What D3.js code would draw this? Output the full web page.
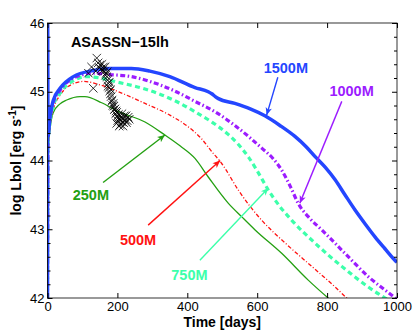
<!DOCTYPE html>
<html>
<head>
<meta charset="utf-8">
<script src="https://cdn.jsdelivr.net/npm/d3@7"></script>
<style>
  body { margin: 0; background: #fff; }
  text { font-family: "Liberation Sans", Arial, sans-serif; }
</style>
</head>
<body>
<div id="chart-area"></div>
<script>
// model light curves, [days, log Lbol]
var m1500 = [[0,41.9],[0.3,46.2],[1.5,44.35],[7,44.64],[17,44.88],[36,45.05],[74,45.22],[131,45.31],[179,45.34],[240,45.34],[293,45.3],[350,45.22],[422,45.06],[460,45.0],[470,44.97],[480,44.93],[489,44.9],[536,44.83],[580,44.75],[622,44.65],[665,44.51],[708,44.35],[740,44.2],[765,44.06],[795,43.9],[823,43.72],[850,43.51],[880,43.28],[910,43.07],[937,42.89],[965,42.72],[994,42.55],[1000,42.52]];
var m1000 = [[0,42],[1.5,44.3],[7,44.6],[17,44.85],[36,45.02],[74,45.2],[131,45.27],[179,45.25],[240,45.22],[293,45.15],[360,45.02],[422,44.86],[479,44.71],[546,44.47],[613,44.18],[645,44.03],[670,43.86],[695,43.62],[718,43.37],[750,43.16],[785,42.99],[851,42.65],[918,42.31],[985,42.04],[1000,41.98]];
var m750 = [[0,42],[1.5,44.25],[7,44.55],[17,44.8],[36,44.98],[74,45.16],[110,45.22],[150,45.2],[200,45.14],[279,45.04],[360,44.88],[422,44.71],[470,44.56],[517,44.38],[545,44.24],[575,44.05],[600,43.85],[632,43.57],[665,43.33],[699,43.13],[765,42.8],[842,42.46],[918,42.16],[966,42.0],[1000,41.9]];
var m500 = [[0,42],[1.5,44.2],[7,44.5],[17,44.75],[36,44.95],[60,45.08],[103,45.15],[150,45.1],[203,45.0],[279,44.83],[350,44.66],[400,44.5],[440,44.32],[470,44.13],[498,43.96],[546,43.57],[580,43.33],[613,43.13],[680,42.8],[756,42.46],[823,42.16],[856,42.0],[900,41.8]];
var m250 = [[0,42],[1.5,44.1],[7,44.45],[16,44.69],[35,44.82],[55,44.88],[93,44.93],[107,44.93],[155,44.84],[203,44.71],[279,44.56],[336,44.37],[380,44.21],[422,44.03],[460,43.76],[517,43.38],[556,43.18],[594,42.99],[670,42.65],[746,42.26],[803,42.0],[850,41.8]];

// ASASSN-15lh observed points
var obs = [[117,45.27],[126,45.36],[131,45.05],[138,45.3],[141,45.49],[145,45.42],[148,45.35],[150,45.39],[153,45.33],[156,45.4],[158,45.31],[160,45.36],[163,45.3],[165,45.36],[166,45.24],[168,45.27],[170,45.22],[171,45.29],[172,45.17],[173,45.08],[174,45.12],[176,45.06],[177,45.14],[178,45.01],[180,44.97],[181,45.03],[182,44.93],[184,44.86],[185,44.88],[187,44.8],[188,44.83],[190,44.79],[191,44.74],[193,44.75],[195,44.68],[196,44.72],[198,44.7],[200,44.64],[201,44.58],[203,44.67],[206,44.6],[208,44.52],[210,44.63],[212,44.56],[213,44.68],[215,44.61],[218,44.55],[220,44.65],[222,44.59],[225,44.65],[226,44.55],[228,44.58],[231,44.63],[234,44.6],[198,44.54],[205,44.5],[202,44.62],[216,44.5]];

var xTicks = [0, 200, 400, 600, 800, 1000];
var yTicks = [42, 43, 44, 45, 46];

// annotation text + arrows in data units: [label, labelT, labelL, fromT, fromL, toT, toL]
var notes = [
  ["1500M", 682, 45.27, 659, 45.21, 627, 44.66],
  ["1000M", 870, 44.94, 842, 44.86, 722, 43.38],
  ["250M", 124, 43.43, 159, 43.68, 336, 44.37],
  ["500M", 259, 42.77, 288, 43.06, 494, 44.0],
  ["750M", 406, 42.26, 436, 42.55, 632, 43.6]
];

var width = 415, height = 333;
var pLeft = 47.5, pRight = 397, pTop = 23, pBottom = 298;

var svg = d3.select("#chart-area").append("svg")
    .attr("width", width)
    .attr("height", height);

var xScale = d3.scaleLinear().domain([0, 1000]).range([pLeft, pRight]);
var yScale = d3.scaleLinear().domain([42, 46]).range([pBottom, pTop]);

svg.append("clipPath").attr("id", "plotclip")
    .append("rect")
    .attr("x", pLeft).attr("y", pTop)
    .attr("width", pRight - pLeft).attr("height", pBottom - pTop);

var line = d3.line()
    .curve(d3.curveMonotoneX)
    .x(function(d) { return xScale(d[0]); })
    .y(function(d) { return yScale(d[1]); });

var series = [
  {data: m250, color: "#24a012", w: 1.3, dash: null},
  {data: m500, color: "#ff1212", w: 1.3, dash: "4,2,1,2"},
  {data: m750, color: "#3cffaa", w: 3.2, dash: "5,3.5"},
  {data: m1000, color: "#9c1cff", w: 3.2, dash: "5,2.5,1.5,2.5"},
  {data: m1500, color: "#2446ff", w: 3.5, dash: null}
];

var plot = svg.append("g").attr("clip-path", "url(#plotclip)");

series.forEach(function(s) {
  plot.append("path")
      .datum(s.data)
      .attr("d", line)
      .attr("fill", "none")
      .attr("stroke", s.color)
      .attr("stroke-width", s.w)
      .attr("stroke-dasharray", s.dash)
      .attr("stroke-linejoin", "round");
});

// X markers
var xs = 4.2;
plot.selectAll(".obs")
    .data(obs)
    .enter()
    .append("path")
    .attr("class", "obs")
    .attr("d", function(d) {
      var cx = xScale(d[0]), cy = yScale(d[1]);
      return "M" + (cx - xs) + "," + (cy - xs) + "L" + (cx + xs) + "," + (cy + xs) +
             "M" + (cx - xs) + "," + (cy + xs) + "L" + (cx + xs) + "," + (cy - xs);
    })
    .attr("stroke", "#000")
    .attr("stroke-width", 0.8)
    .attr("fill", "none");

// frame
svg.append("rect")
    .attr("x", pLeft).attr("y", pTop)
    .attr("width", pRight - pLeft).attr("height", pBottom - pTop)
    .attr("fill", "none").attr("stroke", "#000").attr("stroke-width", 0.8);

// axes, ticks pointing in
var minor = d3.range(42, 46.01, 0.2).filter(function(v) { return Math.abs(v - Math.round(v)) > 0.01; });

svg.append("g")
    .attr("transform", "translate(0," + pBottom + ")")
    .call(d3.axisBottom(xScale).tickValues(xTicks).tickFormat(d3.format("d")).tickSizeInner(-5).tickSizeOuter(0).tickPadding(4))
    .call(function(g) { g.select(".domain").remove(); })
    .selectAll("text").style("font-size", "13px").attr("fill", "#000");

svg.append("g")
    .attr("transform", "translate(0," + pTop + ")")
    .call(d3.axisTop(xScale).tickValues(xTicks).tickSizeInner(-5).tickSizeOuter(0).tickFormat(""))
    .call(function(g) { g.select(".domain").remove(); });

svg.append("g")
    .attr("transform", "translate(" + pLeft + ",0)")
    .call(d3.axisLeft(yScale).tickValues(yTicks).tickFormat(d3.format("d")).tickSizeInner(-5).tickSizeOuter(0).tickPadding(3))
    .call(function(g) { g.select(".domain").remove(); })
    .selectAll("text").style("font-size", "13px").attr("fill", "#000");

svg.append("g")
    .attr("transform", "translate(" + pLeft + ",0)")
    .call(d3.axisLeft(yScale).tickValues(minor).tickSizeInner(-3).tickSizeOuter(0).tickFormat(""))
    .call(function(g) { g.select(".domain").remove(); });

svg.append("g")
    .attr("transform", "translate(" + pRight + ",0)")
    .call(d3.axisRight(yScale).tickValues(yTicks).tickSizeInner(-5).tickSizeOuter(0).tickFormat(""))
    .call(function(g) { g.select(".domain").remove(); });

svg.append("g")
    .attr("transform", "translate(" + pRight + ",0)")
    .call(d3.axisRight(yScale).tickValues(minor).tickSizeInner(-3).tickSizeOuter(0).tickFormat(""))
    .call(function(g) { g.select(".domain").remove(); });

// axis titles
svg.append("text")
    .attr("x", (pLeft + pRight) / 2)
    .attr("y", 326.5)
    .attr("text-anchor", "middle")
    .style("font-size", "14px")
    .style("font-weight", "bold")
    .text("Time [days]");

var yl = svg.append("text")
    .attr("transform", "translate(20.5," + ((pTop + pBottom) / 2) + ") rotate(-90)")
    .attr("text-anchor", "middle")
    .style("font-size", "14px")
    .style("font-weight", "bold");
yl.append("tspan").text("log Lbol [erg s");
yl.append("tspan").attr("dy", "-0.45em").style("font-size", "10px").text("-1");
yl.append("tspan").attr("dy", "0.45em").text("]");

// label for data
svg.append("text")
    .attr("x", xScale(207))
    .attr("y", yScale(45.65))
    .attr("text-anchor", "middle")
    .style("font-size", "14.5px")
    .style("font-weight", "bold")
    .text("ASASSN\u221215lh");

// arrow heads, one per colour
var colorOf = {"1500M": "#2446ff", "1000M": "#9c1cff", "250M": "#24a012", "500M": "#ff1212", "750M": "#3cffaa"};
var defs = svg.append("defs");
notes.forEach(function(n, i) {
  defs.append("marker")
      .attr("id", "ah" + i)
      .attr("viewBox", "-8 -4 9 8")
      .attr("refX", 0).attr("refY", 0)
      .attr("markerWidth", 9).attr("markerHeight", 8)
      .attr("markerUnits", "userSpaceOnUse")
      .attr("orient", "auto")
      .append("path")
      .attr("d", "M0,0L-7.5,-3.2L-5.5,0L-7.5,3.2Z")
      .attr("fill", colorOf[n[0]]);
});

notes.forEach(function(n, i) {
  svg.append("line")
      .attr("x1", xScale(n[3])).attr("y1", yScale(n[4]))
      .attr("x2", xScale(n[5])).attr("y2", yScale(n[6]))
      .attr("stroke", colorOf[n[0]])
      .attr("stroke-width", 1.4)
      .attr("marker-end", "url(#ah" + i + ")");
  svg.append("text")
      .attr("x", xScale(n[1]))
      .attr("y", yScale(n[2]))
      .attr("text-anchor", "middle")
      .attr("fill", colorOf[n[0]])
      .style("font-size", "14.5px")
      .style("font-weight", "bold")
      .text(n[0]);
});
</script>
</body>
</html>
